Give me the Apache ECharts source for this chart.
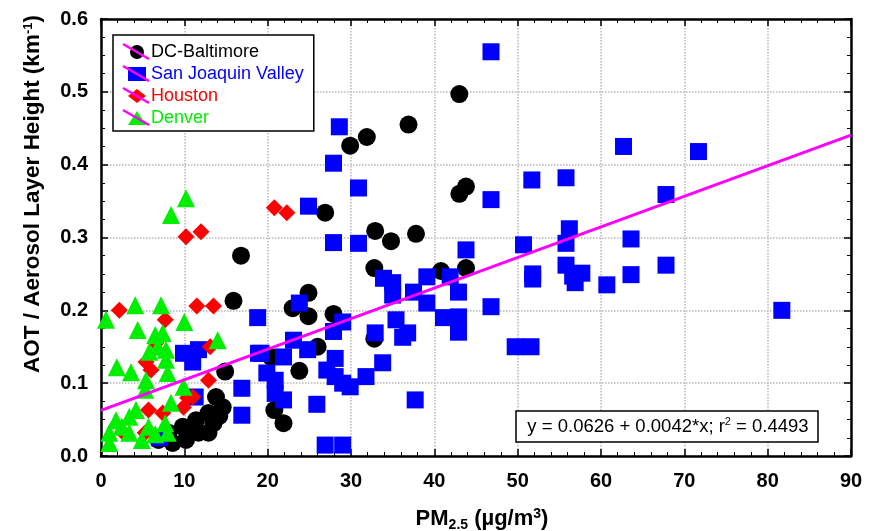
<!DOCTYPE html>
<html><head><meta charset="utf-8">
<script src="https://cdn.jsdelivr.net/npm/echarts@6/dist/echarts.min.js"></script>
<style>html,body{margin:0;padding:0;background:#fff}#c{width:879px;height:531px}</style>
</head><body><div id="c"></div>
<script>
const seriesNames = ['DC-Baltimore', 'San Joaquin Valley', 'Houston', 'Denver'];
const dcBaltimore = [[43.0,0.497],[36.9,0.455],[31.9,0.438],[29.9,0.426],[43.8,0.370],[43.0,0.360],[26.9,0.334],[16.8,0.275],[32.9,0.309],[34.8,0.295],[37.8,0.305],[32.8,0.258],[15.9,0.213],[40.8,0.254],[43.8,0.258],[24.9,0.224],[23.0,0.203],[24.9,0.192],[27.9,0.195],[26.0,0.150],[23.8,0.117],[20.8,0.063],[21.9,0.045],[32.8,0.161],[20.4,0.136],[14.9,0.116],[13.8,0.081],[14.6,0.067],[12.9,0.059],[11.4,0.049],[9.8,0.040],[8.1,0.032],[6.9,0.022],[11.7,0.032],[12.9,0.032],[10.2,0.022],[8.6,0.018],[13.5,0.045],[14.2,0.055]];
const sanJoaquin = [[46.8,0.555],[28.6,0.452],[27.9,0.402],[30.9,0.368],[24.9,0.343],[27.9,0.293],[30.9,0.292],[46.8,0.352],[51.7,0.379],[55.8,0.382],[62.7,0.425],[71.7,0.418],[67.8,0.359],[63.6,0.298],[67.8,0.262],[63.6,0.249],[60.7,0.235],[81.7,0.200],[50.7,0.290],[51.8,0.250],[51.8,0.243],[56.2,0.312],[55.8,0.292],[55.8,0.262],[56.6,0.247],[57.7,0.251],[56.9,0.238],[46.8,0.205],[49.7,0.150],[51.6,0.150],[43.8,0.283],[18.8,0.190],[23.8,0.210],[29.0,0.184],[27.9,0.171],[23.1,0.159],[24.8,0.146],[19.2,0.141],[21.9,0.136],[19.9,0.114],[20.9,0.104],[20.9,0.086],[21.9,0.077],[27.1,0.118],[28.1,0.109],[29.0,0.100],[29.9,0.095],[31.8,0.109],[33.8,0.128],[32.9,0.169],[25.9,0.071],[26.9,0.015],[29.0,0.015],[37.7,0.077],[33.9,0.244],[35.0,0.238],[35.0,0.221],[37.5,0.225],[39.1,0.246],[39.1,0.210],[41.9,0.246],[42.9,0.225],[41.1,0.190],[42.9,0.191],[42.9,0.170],[35.4,0.187],[36.8,0.169],[36.2,0.163],[28.1,0.134],[16.9,0.093],[16.9,0.056],[9.9,0.141],[11.7,0.146],[11.0,0.129],[18.9,0.141],[11.3,0.081],[7.0,0.025]];
const houston = [[10.2,0.301],[12.0,0.308],[2.2,0.200],[11.5,0.206],[13.5,0.206],[20.8,0.341],[22.3,0.334],[7.7,0.187],[5.4,0.129],[6.0,0.118],[12.9,0.104],[13.1,0.150],[9.9,0.067],[10.4,0.080],[11.0,0.081],[5.7,0.063],[7.4,0.059],[2.6,0.033],[5.3,0.032],[6.6,0.155]];
const denver = [[10.2,0.354],[8.4,0.331],[4.1,0.207],[7.2,0.207],[0.6,0.187],[10.0,0.184],[4.4,0.173],[6.5,0.166],[7.4,0.169],[6.8,0.150],[7.8,0.146],[5.8,0.143],[7.8,0.132],[14.0,0.159],[1.9,0.122],[3.6,0.115],[5.4,0.104],[8.0,0.114],[5.3,0.091],[8.4,0.073],[9.9,0.095],[1.8,0.049],[3.4,0.054],[4.2,0.063],[5.7,0.040],[7.7,0.045],[8.0,0.032],[1.0,0.032],[1.0,0.018],[4.9,0.022],[3.4,0.032],[2.5,0.040],[6.5,0.030]];
const fitCoef = [0.0626, 0.0042];   // intercept, slope
const fitRange = [0, 90];
const xTicks = [0, 90, 10];
const yTicks = [0, 0.6, 0.1];

const FONT = '"Liberation Sans", Arial, sans-serif';
const fitLine = fitRange.map(x => [x, fitCoef[0] + fitCoef[1] * x]);

const baseX = {type:'value', min:xTicks[0], max:xTicks[1], interval:xTicks[2],
  axisLine:{show:true, onZero:false, lineStyle:{color:'#000', width:2.5}},
  axisTick:{show:true, inside:true, length:7, lineStyle:{color:'#000', width:1.5}},
  minorTick:{show:true, splitNumber:5, length:4, lineStyle:{color:'#000', width:1}}};
const baseY = {type:'value', min:yTicks[0], max:yTicks[1], interval:yTicks[2],
  axisLine:{show:true, onZero:false, lineStyle:{color:'#000', width:2.5}},
  axisTick:{show:true, inside:true, length:7, lineStyle:{color:'#000', width:1.5}},
  minorTick:{show:true, splitNumber:4, length:4, lineStyle:{color:'#000', width:1}}};

const chart = echarts.init(document.getElementById('c'), null, {renderer:'canvas'});
const colors = ['#000000', '#0000ff', '#ff0000', '#00ee00'];
const symbols = ['circle', 'rect', 'diamond', 'triangle'];
const sizes = [18, 17, 17, 18];
const datas = [dcBaltimore, sanJoaquin, houston, denver];

const legendRows = [51, 73, 95, 117];
chart.setOption({
  animation:false,
  backgroundColor:'#fff',
  grid:{left:101, right:28, top:19, bottom:75},
  xAxis:[
    Object.assign({}, baseX, {position:'bottom',
      axisLabel:{show:true, margin:15, fontFamily:FONT, fontSize:20, fontWeight:'bold', color:'#000'},
      splitLine:{show:true, lineStyle:{color:'#b8b8b8', type:'dotted', width:1.5}}}),
    Object.assign({}, baseX, {position:'top', axisLabel:{show:false}, splitLine:{show:false}})
  ],
  yAxis:[
    Object.assign({}, baseY, {position:'left',
      axisLabel:{show:true, margin:13, fontFamily:FONT, fontSize:20, fontWeight:'bold', color:'#000',
        formatter:v => v.toFixed(1)},
      splitLine:{show:true, lineStyle:{color:'#b8b8b8', type:'dotted', width:1.5}}}),
    Object.assign({}, baseY, {position:'right', axisLabel:{show:false}, splitLine:{show:false}})
  ],
  legend:{
    show:true, orient:'vertical', left:113, top:35, z:10,
    backgroundColor:'#fff', borderColor:'#000', borderWidth:1.5,
    padding:[8, 10, 4, 15], itemGap:4, itemWidth:18, itemHeight:14,
    textStyle:{fontFamily:FONT, fontSize:18, lineHeight:18},
    data: seriesNames.map((n, i) => ({name:n, textStyle:{color:colors[i]}}))
  },
  graphic:[
    ...legendRows.map(y => ({type:'line', z:20, zlevel:0,
      shape:{x1:123, y1:y-7, x2:149, y2:y+8}, style:{stroke:'#ff00ff', lineWidth:2.5}})),
    {type:'text', x:33, y:194, rotation:Math.PI/2,
      style:{text:'{a|AOT / Aerosol Layer Height (km}{s|-1}{a|)}', align:'center', verticalAlign:'middle',
        rich:{a:{fontFamily:FONT, fontSize:22.5, fontWeight:'bold', fill:'#000', lineHeight:24},
              s:{fontFamily:FONT, fontSize:13, fontWeight:'bold', fill:'#000', lineHeight:24, padding:[0,0,10,0]}}}},
    {type:'text', x:482, y:519,
      style:{text:'{a|PM}{b|2.5}{a| (µg/m}{s|3}{a|)}', align:'center', verticalAlign:'middle',
        rich:{a:{fontFamily:FONT, fontSize:22, fontWeight:'bold', fill:'#000', lineHeight:24},
              b:{fontFamily:FONT, fontSize:14, fontWeight:'bold', fill:'#000', lineHeight:24, padding:[12,0,0,0]},
              s:{fontFamily:FONT, fontSize:14, fontWeight:'bold', fill:'#000', lineHeight:24, padding:[0,0,10,0]}}}},
    {type:'rect', z:30, shape:{x:516, y:411, width:302, height:31}, style:{fill:'#fff', stroke:'#000', lineWidth:1.5}},
    {type:'text', z:31, x:668, y:427,
      style:{text:'{a|y = 0.0626 + 0.0042*x; r}{s|2}{a| = 0.4493}', align:'center', verticalAlign:'middle',
        rich:{a:{fontFamily:FONT, fontSize:18.5, fill:'#000', lineHeight:22},
              s:{fontFamily:FONT, fontSize:11, fill:'#000', lineHeight:22, padding:[0,0,10,0]}}}}
  ],
  series:[
    ...datas.map((d, i) => ({
      name:seriesNames[i], type:'scatter', data:d, symbol:symbols[i], symbolSize:sizes[i],
      itemStyle:{color:colors[i], opacity:1}, z:2+i, emphasis:{disabled:true}
    })),
    {name:'fit', type:'line', data:fitLine, showSymbol:false, symbol:'none', z:10,
      lineStyle:{color:'#ff00ff', width:3}, emphasis:{disabled:true}}
  ]
});
</script></body></html>
